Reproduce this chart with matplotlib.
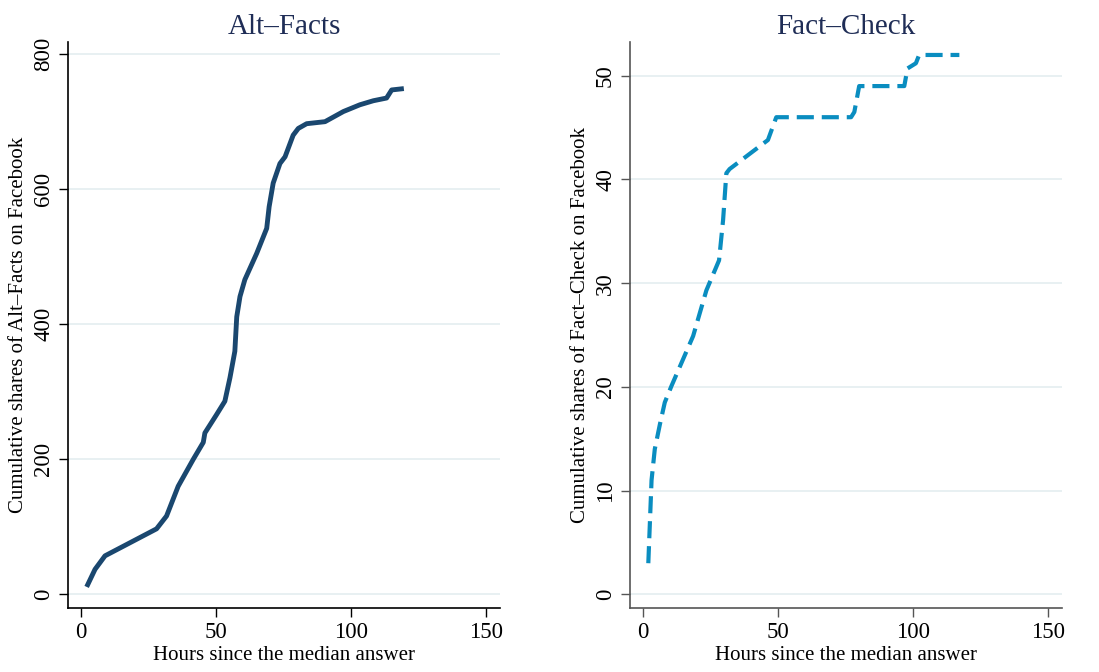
import matplotlib.pyplot as plt

plt.rcParams['font.family'] = ['Liberation Serif', 'DejaVu Serif']

# Cumulative shares of Alt-Facts (hours since median answer, shares)
alt_hours = [2.1, 5.2, 8.9, 28.0, 31.7, 36.0, 41.6, 45.3, 45.9, 50.2, 53.3,
             55.2, 57.0, 57.7, 58.9, 60.7, 65.1, 68.8, 69.7, 71.2, 73.7,
             75.6, 78.6, 80.5, 83.6, 90.4, 97.2, 103.3, 108.3, 113.2, 115.1,
             119.6]
alt_shares = [11, 37, 57, 97, 116, 160, 200, 225, 239, 266, 286,
              321, 360, 411, 441, 466, 505, 542, 574, 609, 638,
              648, 680, 690, 697, 700, 715, 725, 731, 735, 747,
              749]

# Cumulative shares of Fact-Check
fc_hours = [2.0, 2.6, 3.2, 4.4, 6.3, 8.1, 10.6, 18.6, 23.5, 28.2, 29.7,
            30.9, 32.1, 46.3, 49.4, 77.1, 78.3, 80.1, 96.8, 98.0, 101.1,
            102.3, 117.2]
fc_shares = [3, 7, 11, 14, 16.4, 18.5, 20.1, 24.9, 29.3, 32.2, 36.1,
             40.6, 41, 43.8, 46, 46, 46.5, 49, 49, 50.7, 51.2,
             52, 52]

x_ticks = [0, 50, 100, 150]

TITLE_COLOR = '#1f2d56'
GRID_COLOR = '#e6eff1'


def style_axis(ax, spine_color):
    for s in ['top', 'right']:
        ax.spines[s].set_visible(False)
    for s in ['left', 'bottom']:
        ax.spines[s].set_color(spine_color)
        ax.spines[s].set_linewidth(1.2)
    ax.set_xticks(x_ticks)
    ax.set_xlim(-4.8, 155.2)
    ax.tick_params(axis='both', direction='out', length=6.5, width=1.0,
                   labelsize=16.5, colors=spine_color, labelcolor='black')
    for lab in ax.get_yticklabels():
        lab.set_rotation(90)
        lab.set_va('center')
    ax.grid(True, axis='y', color=GRID_COLOR, lw=1.3)
    ax.set_axisbelow(True)
    ax.set_xlabel('Hours since the median answer', fontsize=15, labelpad=2)


fig = plt.figure(figsize=(10.99, 6.72), dpi=100)
ax1 = fig.add_axes([0.0619, 0.0952, 0.393, 0.8423])
ax2 = fig.add_axes([0.5732, 0.0952, 0.3931, 0.8423])

ax1.plot(alt_hours, alt_shares, color='#1a476f', lw=3.5,
         solid_capstyle='butt')
ax1.set_yticks([0, 200, 400, 600, 800])
ax1.set_ylim(-20.3, 818)
style_axis(ax1, 'black')
ax1.set_ylabel('Cumulative shares of Alt\u2013Facts on Facebook',
               fontsize=15, labelpad=4)
ax1.set_title('Alt\u2013Facts', fontsize=21, color=TITLE_COLOR, pad=6)

ax2.plot(fc_hours, fc_shares, color='#0a8dc0', lw=3.0,
         dashes=(4.1, 1.9), dash_capstyle='butt')
ax2.set_yticks([0, 10, 20, 30, 40, 50])
ax2.set_ylim(-1.32, 53.25)
style_axis(ax2, '#555555')
ax2.set_ylabel('Cumulative shares of Fact\u2013Check on Facebook',
               fontsize=15, labelpad=4)
ax2.set_title('Fact\u2013Check', fontsize=21, color=TITLE_COLOR, pad=6)

fig.savefig('out.png', dpi=100)
